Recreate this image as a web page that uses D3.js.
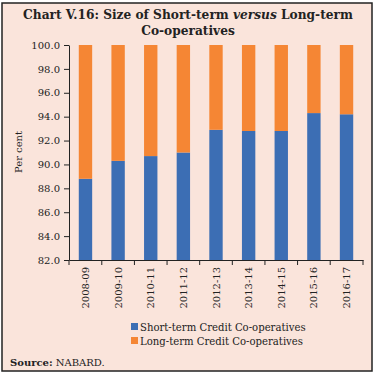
<!DOCTYPE html>
<html><head><meta charset="utf-8">
<script src="https://cdn.jsdelivr.net/npm/d3@7"></script>
<style>body{margin:0;background:#fff}svg{display:block}</style>
</head><body>
<script>
const years = ["2008-09","2009-10","2010-11","2011-12","2012-13","2013-14","2014-15","2015-16","2016-17"];
const shortTerm = [88.8,90.3,90.7,91.0,92.9,92.8,92.8,94.3,94.2];
const longTerm = [11.2,9.7,9.3,9.0,7.1,7.2,7.2,5.7,5.8];
const yTicks = [82,84,86,88,90,92,94,96,98,100];
const seriesNames = ["Short-term Credit Co-operatives","Long-term Credit Co-operatives"];
const colors = ["#3C6EB4","#F58634"];

const W = 378, H = 376;
const svg = d3.select("body").append("svg").attr("width", W).attr("height", H);
const font = "'DejaVu Serif', 'Liberation Serif', serif";

svg.append("rect").attr("x",2).attr("y",3).attr("width",370).attr("height",368)
  .attr("fill","#FAE4DB").attr("stroke","#222").attr("stroke-width",1.5);

const title = svg.append("text").attr("text-anchor","middle").attr("font-family",font)
  .attr("font-weight","bold").attr("font-size",12.2).attr("fill","#222");
const t1 = title.append("tspan").attr("x",188).attr("y",19);
t1.append("tspan").text("Chart V.16: Size of Short-term ");
t1.append("tspan").attr("font-style","italic").text("versus");
t1.append("tspan").text(" Long-term");
title.append("tspan").attr("x",188).attr("y",35).text("Co-operatives");

const m = {left:69, right:363, top:45, bottom:260};
const x = d3.scaleBand().domain(years).range([m.left, m.right]).paddingInner(0.59).paddingOuter(0.3);
const y = d3.scaleLinear().domain([82,100]).range([m.bottom, m.top]);

const stackData = years.map((yr,i)=>({year:yr, s:shortTerm[i], l:longTerm[i]}));
const stacked = d3.stack().keys(["s","l"])(stackData);

svg.append("g").selectAll("g").data(stacked).join("g").attr("fill",(d,i)=>colors[i])
  .selectAll("rect").data(d=>d).join("rect")
  .attr("x", d=>x(d.data.year)).attr("width", x.bandwidth())
  .attr("y", d=>y(Math.min(d[1],100))).attr("height", d=>y(d[0]>82?d[0]:82)-y(Math.min(d[1],100)));

const yAxis = svg.append("g").attr("transform",`translate(${m.left},0)`)
  .call(d3.axisLeft(y).tickValues(yTicks).tickFormat(d3.format(".1f")).tickSize(5).tickSizeOuter(0));
yAxis.selectAll("text").attr("font-family",font).attr("font-size",10).attr("fill","#222").attr("dx",-1);
yAxis.selectAll("line,path").attr("stroke","#222");

const xAxis = svg.append("g").attr("transform",`translate(0,${m.bottom})`)
  .call(d3.axisBottom(x).tickSize(0).tickSizeOuter(0));
xAxis.select("path").attr("stroke","#222");
xAxis.selectAll("text").attr("font-family",font).attr("font-size",10).attr("fill","#222")
  .attr("transform","rotate(-90)").attr("text-anchor","end").attr("x",-7).attr("y",0).attr("dy","0.35em");
const step = x.step();
const bounds = d3.range(years.length+1).map(i=> i===0? m.left : (i===years.length? m.right : x(years[i]) - step*x.paddingInner()/2));
svg.append("g").selectAll("line").data(bounds).join("line")
  .attr("x1",d=>d).attr("x2",d=>d).attr("y1",m.bottom).attr("y2",m.bottom+5).attr("stroke","#222");

svg.append("text").attr("transform","translate(22,152) rotate(-90)").attr("text-anchor","middle")
  .attr("font-family",font).attr("font-size",10).attr("fill","#222").text("Per cent");

const leg = svg.append("g");
seriesNames.forEach((n,i)=>{
  leg.append("rect").attr("x",131).attr("y",323+i*14).attr("width",7).attr("height",7).attr("fill",colors[i]);
  leg.append("text").attr("x",140).attr("y",330.5+i*14).attr("font-family",font).attr("font-size",10.1)
    .attr("fill","#222").text(n);
});

const src = svg.append("text").attr("x",10).attr("y",366).attr("font-family",font).attr("font-size",10).attr("fill","#222");
src.append("tspan").attr("font-weight","bold").text("Source:");
src.append("tspan").text(" NABARD.");
</script>
</body></html>
